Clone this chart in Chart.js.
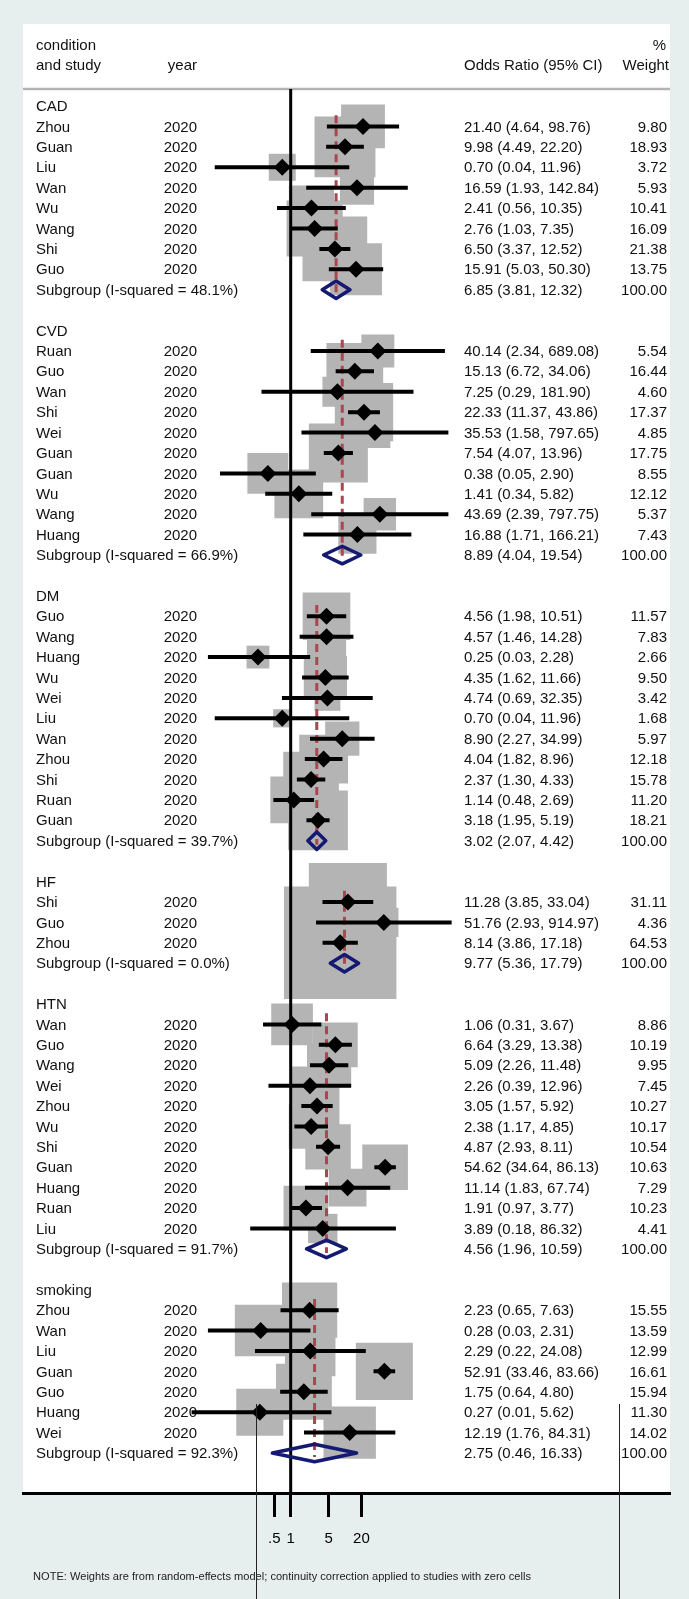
<!DOCTYPE html>
<html><head><meta charset="utf-8">
<script src="https://cdn.jsdelivr.net/npm/chart.js@4"></script>
<style>
html,body{margin:0;padding:0;background:#e6eeee;}
#wrap{width:689px;height:1599px;position:relative;}
canvas{display:block;}
</style></head><body>
<div id="wrap"><canvas id="c" width="689" height="1599"></canvas></div>
<script>
// ---------------- DATA ----------------
const groupNames = ['CAD', 'CVD', 'DM', 'HF', 'HTN', 'smoking'];
const groupI2 = [48.1, 66.9, 39.7, 0.0, 91.7, 92.3];
const pooledOR = [6.85, 8.89, 3.02, 9.77, 4.56, 2.75];
const pooledLow = [3.81, 4.04, 2.07, 5.36, 1.96, 0.46];
const pooledHigh = [12.32, 19.54, 4.42, 17.79, 10.59, 16.33];

const studyGroup = [0,0,0,0,0,0,0,0,
  1,1,1,1,1,1,1,1,1,1,
  2,2,2,2,2,2,2,2,2,2,2,
  3,3,3,
  4,4,4,4,4,4,4,4,4,4,4,
  5,5,5,5,5,5,5];
const studyNames = ['Zhou','Guan','Liu','Wan','Wu','Wang','Shi','Guo',
  'Ruan','Guo','Wan','Shi','Wei','Guan','Guan','Wu','Wang','Huang',
  'Guo','Wang','Huang','Wu','Wei','Liu','Wan','Zhou','Shi','Ruan','Guan',
  'Shi','Guo','Zhou',
  'Wan','Guo','Wang','Wei','Zhou','Wu','Shi','Guan','Huang','Ruan','Liu',
  'Zhou','Wan','Liu','Guan','Guo','Huang','Wei'];
const studyYears = studyNames.map(() => 2020);
const studyOR = [21.40,9.98,0.70,16.59,2.41,2.76,6.50,15.91,
  40.14,15.13,7.25,22.33,35.53,7.54,0.38,1.41,43.69,16.88,
  4.56,4.57,0.25,4.35,4.74,0.70,8.90,4.04,2.37,1.14,3.18,
  11.28,51.76,8.14,
  1.06,6.64,5.09,2.26,3.05,2.38,4.87,54.62,11.14,1.91,3.89,
  2.23,0.28,2.29,52.91,1.75,0.27,12.19];
const studyLow = [4.64,4.49,0.04,1.93,0.56,1.03,3.37,5.03,
  2.34,6.72,0.29,11.37,1.58,4.07,0.05,0.34,2.39,1.71,
  1.98,1.46,0.03,1.62,0.69,0.04,2.27,1.82,1.30,0.48,1.95,
  3.85,2.93,3.86,
  0.31,3.29,2.26,0.39,1.57,1.17,2.93,34.64,1.83,0.97,0.18,
  0.65,0.03,0.22,33.46,0.64,0.01,1.76];
const studyHigh = [98.76,22.20,11.96,142.84,10.35,7.35,12.52,50.30,
  689.08,34.06,181.90,43.86,797.65,13.96,2.90,5.82,797.75,166.21,
  10.51,14.28,2.28,11.66,32.35,11.96,34.99,8.96,4.33,2.69,5.19,
  33.04,914.97,17.18,
  3.67,13.38,11.48,12.96,5.92,4.85,8.11,86.13,67.74,3.77,86.32,
  7.63,2.31,24.08,83.66,4.80,5.62,84.31];
const studyWeight = [9.80,18.93,3.72,5.93,10.41,16.09,21.38,13.75,
  5.54,16.44,4.60,17.37,4.85,17.75,8.55,12.12,5.37,7.43,
  11.57,7.83,2.66,9.50,3.42,1.68,5.97,12.18,15.78,11.20,18.21,
  31.11,4.36,64.53,
  8.86,10.19,9.95,7.45,10.27,10.17,10.54,10.63,7.29,10.23,4.41,
  15.55,13.59,12.99,16.61,15.94,11.30,14.02];

const tickValues = [0.5, 1, 5, 20];
const tickLabels = ['.5', '1', '5', '20'];
const noteText = 'NOTE: Weights are from random-effects model; continuity correction applied to studies with zero cells';

// ---------------- LAYOUT / STYLE ----------------
const FONT = '"Liberation Sans", Arial, Helvetica, sans-serif';
const TEXT_SIZE = 15;
const W = 689, H = 1599;
const PAD = {left: 23, right: 19, top: 24};
const AXIS_H = 106;
const X_MIN = 1.186e-5, X_MAX = 9.55e6;   // log scale range of the plot panel
const Y_MIN = -4.02, Y_MAX = 67.96;       // row scale of the plot panel
const SEP_ROW = -0.83;
const CI_DRAW_MIN = 0.015;                 // plot clip for CI lines
const BOX_SCALE = 9.9;                     // radius per sqrt(weight)
const DIAMOND_H = 0.43;
const COL = {name: 36, yearRight: 197, or: 464, weightRight: 667, pctRight: 666, weightHdrRight: 669};
const GAP = {x: NaN, y: NaN};

// rows
const groupRow = [], firstStudyRow = [], subgroupRow = [], studyRow = [];
let row = 0;
groupNames.forEach((g, gi) => {
  groupRow[gi] = row++;
  firstStudyRow[gi] = row;
  studyGroup.forEach((sg, i) => { if (sg === gi) studyRow[i] = row++; });
  subgroupRow[gi] = row++;
  row++;
});

const boxData = studyOR.map((v, i) => ({x: v, y: studyRow[i]}));
const pointData = studyOR.map((v, i) => ({x: v, y: studyRow[i]}));
const ciData = [];
studyOR.forEach((v, i) => {
  ciData.push({x: Math.max(studyLow[i], CI_DRAW_MIN), y: studyRow[i]}, {x: studyHigh[i], y: studyRow[i]}, GAP);
});
const dashData = [];
const diamondData = [];
groupNames.forEach((g, gi) => {
  dashData.push({x: pooledOR[gi], y: firstStudyRow[gi] - 0.55}, {x: pooledOR[gi], y: subgroupRow[gi] + 0.2}, GAP);
  const r = subgroupRow[gi];
  diamondData.push({x: pooledLow[gi], y: r}, {x: pooledOR[gi], y: r - DIAMOND_H},
    {x: pooledHigh[gi], y: r}, {x: pooledOR[gi], y: r + DIAMOND_H},
    {x: pooledLow[gi], y: r}, {x: pooledOR[gi], y: r - DIAMOND_H}, GAP);
});
const nullLine = [{x: 1, y: SEP_ROW}, {x: 1, y: Y_MAX}];

const panelPlugin = {
  id: 'panel',
  beforeDraw(chart) {
    const {ctx, chartArea: a} = chart;
    ctx.save();
    ctx.fillStyle = '#ffffff';
    ctx.fillRect(a.left, a.top, a.right - a.left, a.bottom - a.top);
    ctx.restore();
  }
};

const textPlugin = {
  id: 'texts',
  beforeDatasetsDraw(chart) {
    const {ctx, chartArea: a} = chart;
    const P = r => chart.scales.y.getPixelForValue(r) + 1;
    ctx.save();
    // header separator
    ctx.strokeStyle = '#b3b3b3';
    ctx.lineWidth = 2.5;
    ctx.beginPath(); ctx.moveTo(a.left, P(SEP_ROW) - 1); ctx.lineTo(a.right, P(SEP_ROW) - 1); ctx.stroke();

    ctx.fillStyle = '#111';
    ctx.font = TEXT_SIZE + 'px ' + FONT;
    ctx.textBaseline = 'middle';
    const L = (t, x, r) => { ctx.textAlign = 'left'; ctx.fillText(t, x, P(r)); };
    const R = (t, x, r) => { ctx.textAlign = 'right'; ctx.fillText(t, x, P(r)); };
    L('condition', COL.name, -3); R('%', COL.pctRight, -3);
    L('and study', COL.name, -2); R('year', COL.yearRight, -2);
    L('Odds Ratio (95% CI)', COL.or, -2); R('Weight', COL.weightHdrRight, -2);
    const fmt = v => v.toFixed(2);
    groupNames.forEach((g, gi) => {
      L(g, COL.name, groupRow[gi]);
      const sr = subgroupRow[gi];
      L('Subgroup (I-squared = ' + groupI2[gi].toFixed(1) + '%)', COL.name, sr);
      L(fmt(pooledOR[gi]) + ' (' + fmt(pooledLow[gi]) + ', ' + fmt(pooledHigh[gi]) + ')', COL.or, sr);
      R('100.00', COL.weightRight, sr);
    });
    studyNames.forEach((n, i) => {
      const r = studyRow[i];
      L(n, COL.name, r);
      R(String(studyYears[i]), COL.yearRight, r);
      L(fmt(studyOR[i]) + ' (' + fmt(studyLow[i]) + ', ' + fmt(studyHigh[i]) + ')', COL.or, r);
      R(fmt(studyWeight[i]), COL.weightRight, r);
    });
    ctx.restore();
  },
  afterDraw(chart) {
    const {ctx} = chart;
    ctx.save();
    ctx.fillStyle = '#222';
    ctx.font = '10px ' + FONT;
    ctx.textBaseline = 'middle';
    ctx.textAlign = 'left';
    const w = ctx.measureText(noteText).width;
    ctx.translate(33, 1577);
    ctx.scale(498 / w, 1);
    ctx.fillText(noteText, 0, 0);
    ctx.restore();
    // thin scan lines present in the source image
    ctx.save();
    ctx.strokeStyle = '#222';
    ctx.lineWidth = 1;
    ctx.beginPath();
    ctx.moveTo(256.5, 1404); ctx.lineTo(256.5, H);
    ctx.moveTo(619.5, 1404); ctx.lineTo(619.5, H);
    ctx.stroke();
    ctx.restore();
  }
};

new Chart(document.getElementById('c'), {
  type: 'scatter',
  data: {
    datasets: [
      {label: 'weights', data: boxData, order: 6, showLine: false, pointStyle: 'rect',
       pointRadius: c => BOX_SCALE * Math.sqrt(studyWeight[c.dataIndex]),
       backgroundColor: '#b4b4b4', borderWidth: 0, pointBorderWidth: 0},
      {label: 'null', data: nullLine, order: 5, showLine: true, pointRadius: 0,
       borderColor: '#000', borderWidth: 3},
      {label: 'pooled line', data: dashData, order: 4, showLine: true, pointRadius: 0,
       borderColor: '#a9474f', borderWidth: 3, borderDash: [8, 5], spanGaps: false},
      {label: 'CI', data: ciData, order: 3, showLine: true, pointRadius: 0,
       borderColor: '#000', borderWidth: 4, spanGaps: false, borderCapStyle: 'butt'},
      {label: 'OR', data: pointData, order: 2, showLine: false, pointStyle: 'rectRot',
       pointRadius: 8.5, backgroundColor: '#000', borderWidth: 0, pointBorderWidth: 0},
      {label: 'pooled', data: diamondData, order: 1, showLine: true, pointRadius: 0,
       borderColor: '#141a72', borderWidth: 3.5, borderJoinStyle: 'round', spanGaps: false, fill: false}
    ]
  },
  options: {
    responsive: false, animation: false, events: [], devicePixelRatio: 1,
    layout: {autoPadding: false, padding: {left: PAD.left, right: PAD.right, top: PAD.top, bottom: 0}},
    plugins: {legend: {display: false}, tooltip: {enabled: false}},
    scales: {
      x: {
        type: 'logarithmic', position: 'bottom', min: X_MIN, max: X_MAX, bounds: 'data',
        afterBuildTicks: s => { s.ticks = tickValues.map(v => ({value: v})); },
        afterFit: s => { s.height = AXIS_H; },
        ticks: {autoSkip: false, maxRotation: 0, minRotation: 0, padding: 13, color: '#000',
                font: {size: TEXT_SIZE, family: FONT}, callback: (v, i) => tickLabels[i]},
        grid: {display: true, drawOnChartArea: false, drawTicks: true, tickLength: 24, tickWidth: 3, tickColor: '#000'},
        border: {display: true, width: 3, color: '#000'}
      },
      y: {type: 'linear', display: false, reverse: true, min: Y_MIN, max: Y_MAX}
    }
  },
  plugins: [panelPlugin, textPlugin]
});
</script>
</body></html>
